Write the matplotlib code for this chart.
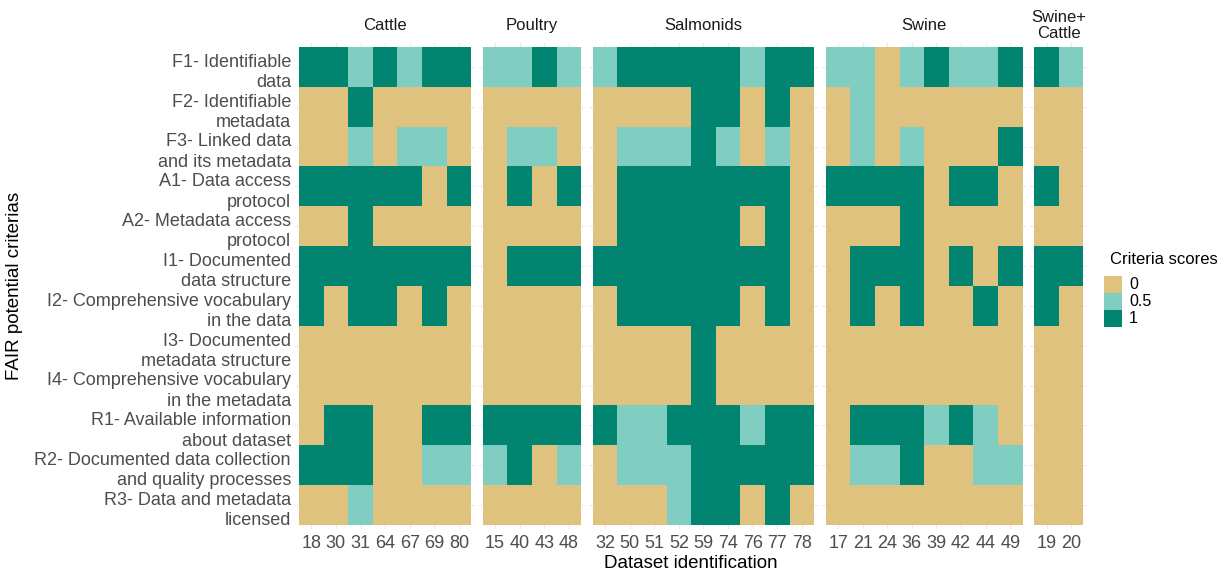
import matplotlib
matplotlib.use("Agg")
import matplotlib.pyplot as plt
import matplotlib.transforms as mtransforms
import numpy as np
from matplotlib.colors import ListedColormap, BoundaryNorm
from matplotlib.patches import Rectangle

plt.rcParams["font.family"] = ["Liberation Sans", "DejaVu Sans"]

criteria = [
    "F1- Identifiable\ndata",
    "F2- Identifiable\nmetadata",
    "F3- Linked data\nand its metadata",
    "A1- Data access\nprotocol",
    "A2- Metadata access\nprotocol",
    "I1- Documented\ndata structure",
    "I2- Comprehensive vocabulary\nin the data",
    "I3- Documented\nmetadata structure",
    "I4- Comprehensive vocabulary\nin the metadata",
    "R1- Available information\nabout dataset",
    "R2- Documented data collection\nand quality processes",
    "R3- Data and metadata\nlicensed",
]

# one row per criterion, one column per dataset
cattle_ids = ["18", "30", "31", "64", "67", "69", "80"]
cattle_scores = [
    [1, 1, 0.5, 1, 0.5, 1, 1],
    [0, 0, 1, 0, 0, 0, 0],
    [0, 0, 0.5, 0, 0.5, 0.5, 0],
    [1, 1, 1, 1, 1, 0, 1],
    [0, 0, 1, 0, 0, 0, 0],
    [1, 1, 1, 1, 1, 1, 1],
    [1, 0, 1, 1, 0, 1, 0],
    [0, 0, 0, 0, 0, 0, 0],
    [0, 0, 0, 0, 0, 0, 0],
    [0, 1, 1, 0, 0, 1, 1],
    [1, 1, 1, 0, 0, 0.5, 0.5],
    [0, 0, 0.5, 0, 0, 0, 0],
]

poultry_ids = ["15", "40", "43", "48"]
poultry_scores = [
    [0.5, 0.5, 1, 0.5],
    [0, 0, 0, 0],
    [0, 0.5, 0.5, 0],
    [0, 1, 0, 1],
    [0, 0, 0, 0],
    [0, 1, 1, 1],
    [0, 0, 0, 0],
    [0, 0, 0, 0],
    [0, 0, 0, 0],
    [1, 1, 1, 1],
    [0.5, 1, 0, 0.5],
    [0, 0, 0, 0],
]

salmonids_ids = ["32", "50", "51", "52", "59", "74", "76", "77", "78"]
salmonids_scores = [
    [0.5, 1, 1, 1, 1, 1, 0.5, 1, 1],
    [0, 0, 0, 0, 1, 1, 0, 1, 0],
    [0, 0.5, 0.5, 0.5, 1, 0.5, 0, 0.5, 0],
    [0, 1, 1, 1, 1, 1, 1, 1, 0],
    [0, 1, 1, 1, 1, 1, 0, 1, 0],
    [1, 1, 1, 1, 1, 1, 1, 1, 0],
    [0, 1, 1, 1, 1, 1, 0, 1, 0],
    [0, 0, 0, 0, 1, 0, 0, 0, 0],
    [0, 0, 0, 0, 1, 0, 0, 0, 0],
    [1, 0.5, 0.5, 1, 1, 1, 0.5, 1, 1],
    [0, 0.5, 0.5, 0.5, 1, 1, 1, 1, 1],
    [0, 0, 0, 0.5, 1, 1, 0, 1, 0],
]

swine_ids = ["17", "21", "24", "36", "39", "42", "44", "49"]
swine_scores = [
    [0.5, 0.5, 0, 0.5, 1, 0.5, 0.5, 1],
    [0, 0.5, 0, 0, 0, 0, 0, 0],
    [0, 0.5, 0, 0.5, 0, 0, 0, 1],
    [1, 1, 1, 1, 0, 1, 1, 0],
    [0, 0, 0, 1, 0, 0, 0, 0],
    [0, 1, 1, 1, 0, 1, 0, 1],
    [0, 1, 0, 1, 0, 0, 1, 0],
    [0, 0, 0, 0, 0, 0, 0, 0],
    [0, 0, 0, 0, 0, 0, 0, 0],
    [0, 1, 1, 1, 0.5, 1, 0.5, 0],
    [0, 0.5, 0.5, 1, 0, 0, 0.5, 0.5],
    [0, 0, 0, 0, 0, 0, 0, 0],
]

swine_cattle_ids = ["19", "20"]
swine_cattle_scores = [
    [1, 0.5],
    [0, 0],
    [0, 0],
    [1, 0],
    [0, 0],
    [1, 1],
    [1, 0],
    [0, 0],
    [0, 0],
    [0, 0],
    [0, 0],
    [0, 0],
]

groups = ["Cattle", "Poultry", "Salmonids", "Swine", "Swine+\nCattle"]
group_ids = [cattle_ids, poultry_ids, salmonids_ids, swine_ids, swine_cattle_ids]
group_scores = [cattle_scores, poultry_scores, salmonids_scores, swine_scores, swine_cattle_scores]

score_levels = ["0", "0.5", "1"]
score_colors = ["#DFC27D", "#80CDC1", "#018571"]
cmap = ListedColormap(score_colors)
norm = BoundaryNorm([-0.25, 0.25, 0.75, 1.25], cmap.N)

W, H = 1231, 570
fig = plt.figure(figsize=(W / 100, H / 100), dpi=100)

# layout in pixels
x0 = 299.0        # left edge of first tile
unit = 24.6       # tile width
gap = 11.6        # space between facets
top, bottom = 47.0, 525.0
pad = 4.0         # panel area beyond the tiles
n_rows = len(criteria)
row_h = (bottom - top) / n_rows

tick_color = "#4D4D4D"
x = x0
for k, (name, ids, scores) in enumerate(zip(groups, group_ids, group_scores)):
    n = len(ids)
    w = n * unit
    ax = fig.add_axes([(x - pad) / W, (H - bottom - pad) / H,
                       (w + 2 * pad) / W, (bottom - top + 2 * pad) / H])
    vals = np.array(scores, dtype=float)
    ax.pcolormesh(np.arange(n + 1) - 0.5, np.arange(n_rows + 1) - 0.5, vals,
                  cmap=cmap, norm=norm, zorder=2)
    ax.set_xlim(-0.5 - pad / unit, n - 0.5 + pad / unit)
    ax.set_ylim(n_rows - 0.5 + pad / row_h, -0.5 - pad / row_h)
    ax.set_xticks(range(n))
    ax.set_xticklabels(ids)
    ax.set_yticks(range(n_rows))
    ax.set_yticklabels([])
    if k == 0:
        # row labels as text so they can sit a little lower, like ggplot's
        trans = mtransforms.blended_transform_factory(ax.transAxes, ax.transData)
        trans = trans + mtransforms.ScaledTranslation(-4 / 100, -5.5 / 100, fig.dpi_scale_trans)
        for i, lab in enumerate(criteria):
            ax.text(0, i, lab, transform=trans, ha="right", va="center",
                    fontsize=13, color=tick_color, linespacing=1.25)
    ax.tick_params(length=0, labelsize=13, colors=tick_color, pad=4)
    ax.grid(True, color="#EBEBEB", lw=0.8, zorder=0)
    ax.set_axisbelow(True)
    for s in ax.spines.values():
        s.set_visible(False)
    fig.text((x + w / 2) / W, 1 - 25.5 / H, name, ha="center", va="center",
             fontsize=12, color="#1A1A1A", linespacing=1.0)
    x += w + gap

fig.text(((x0 + x - gap) / 2) / W, 1 - 563 / H, "Dataset identification",
         ha="center", va="center", fontsize=13.5, color="black")
fig.text(15 / W, 1 - 286 / H, "FAIR potential criterias", rotation=90,
         ha="center", va="center", fontsize=13.5, color="black")

# legend, drawn by hand to match the ggplot guide
fig.text(1110 / W, 1 - 259 / H, "Criteria scores", ha="left", va="center",
         fontsize=12, color="black")
key_x, key_y, key_w, key_h = 1104, 276, 18, 17
for i, (lab, col) in enumerate(zip(score_levels, score_colors)):
    y_top = key_y + i * key_h
    fig.add_artist(Rectangle((key_x / W, 1 - (y_top + key_h) / H), key_w / W, key_h / H,
                             transform=fig.transFigure, facecolor=col, edgecolor="none"))
    fig.text(1129 / W, 1 - (y_top + key_h / 2) / H, lab, ha="left", va="center",
             fontsize=11.5, color="black")

fig.savefig("out.png", dpi=100)
